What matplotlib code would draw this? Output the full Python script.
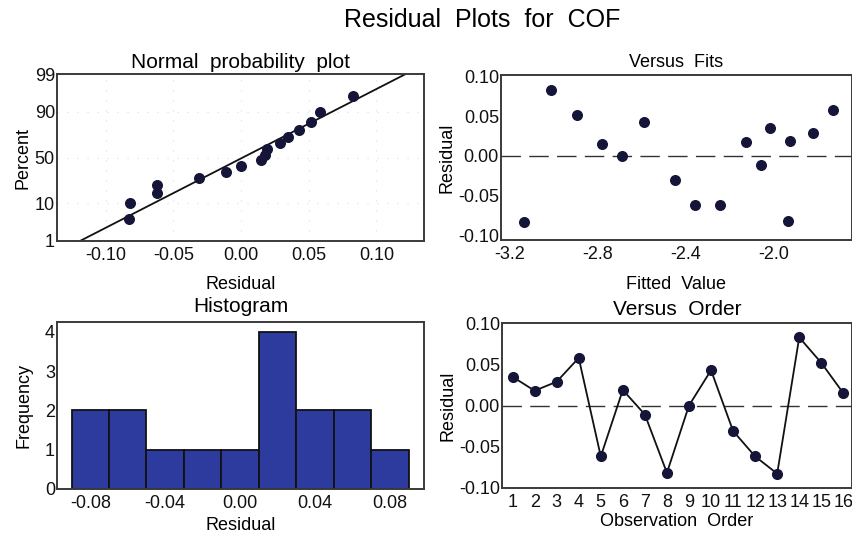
import matplotlib
matplotlib.use("Agg")
import matplotlib.pyplot as plt
import numpy as np
from statistics import NormalDist

plt.rcParams['font.family'] = ['Liberation Sans', 'DejaVu Sans']
plt.rcParams['axes.unicode_minus'] = False

# residuals in observation order, with their fitted values
order = list(range(1, 17))
residuals = [0.035, 0.018, 0.029, 0.058, -0.062, 0.019, -0.011, -0.082,
             0.000, 0.043, -0.031, -0.062, -0.083, 0.083, 0.052, 0.015]
fitted = [-2.015, -2.125, -1.822, -1.731, -2.245, -1.925, -2.056, -1.937,
          -2.690, -2.590, -2.450, -2.359, -3.132, -3.011, -2.895, -2.780]
hist_bins = [-0.09, -0.07, -0.05, -0.03, -0.01, 0.01, 0.03, 0.05, 0.07, 0.09]
pct_ticks = [1, 10, 50, 90, 99]

spine_col = '#3a3a3a'
dot_col = '#15153a'
bar_col = '#2e3b9e'
nd = NormalDist()
tick_fs = 13
lab_fs = 13

fig = plt.figure(figsize=(8.53, 5.34), dpi=100)
ax1 = fig.add_axes([0.0668, 0.5487, 0.430, 0.3127])
ax2 = fig.add_axes([0.5873, 0.5506, 0.4115, 0.309])
ax3 = fig.add_axes([0.0668, 0.0843, 0.430, 0.3127])
ax4 = fig.add_axes([0.5885, 0.0861, 0.410, 0.309])

for ax in (ax1, ax2, ax3, ax4):
    for s in ax.spines.values():
        s.set_color(spine_col)
        s.set_linewidth(1.4)
    ax.tick_params(length=0, labelsize=tick_fs, colors='#111111')
    ax.tick_params(axis='y', pad=1.5)
    ax.tick_params(axis='x', pad=4)

# normal probability plot
n = len(residuals)
r_sorted = np.sort(residuals)
probs = [(i + 1 - 0.3) / (n + 0.4) for i in range(n)]
z = [nd.inv_cdf(p) for p in probs]
mu = np.mean(residuals)
sd = np.std(residuals, ddof=1)
zlo, zhi = nd.inv_cdf(0.01), nd.inv_cdf(0.99)
ax1.plot([mu + zlo * sd, mu + zhi * sd], [zlo, zhi], color='#111111', lw=1.3, zorder=2)
ax1.scatter(r_sorted, z, s=48, color=dot_col, zorder=3)
ax1.set_ylim(zlo, zhi)
ax1.set_xlim(-0.136, 0.135)
ax1.set_yticks([nd.inv_cdf(p / 100) for p in pct_ticks])
ax1.set_yticklabels([str(p) for p in pct_ticks])
ax1.set_xticks([-0.10, -0.05, 0.00, 0.05, 0.10])
ax1.set_xticklabels(['-0.10', '-0.05', '0.00', '0.05', '0.10'])
ax1.grid(True, linestyle=(0, (1, 8)), color='#dddddd', lw=0.8)
ax1.set_title('Normal  probability  plot', fontsize=15, pad=4)
ax1.set_xlabel('Residual', fontsize=lab_fs, labelpad=9)
ax1.set_ylabel('Percent', fontsize=lab_fs, labelpad=2)

# versus fits
ax2.scatter(fitted, residuals, s=48, color=dot_col, zorder=3)
ax2.axhline(0, color='#333333', lw=1.0, dashes=(14, 6), zorder=1)
ax2.set_xlim(-3.238, -1.645)
ax2.set_ylim(-0.106, 0.102)
ax2.set_xticks([-3.2, -2.8, -2.4, -2.0])
ax2.set_xticklabels(['-3.2', '-2.8', '-2.4', '-2.0'])
ax2.set_yticks([-0.10, -0.05, 0.00, 0.05, 0.10])
ax2.set_yticklabels(['-0.10', '-0.05', '0.00', '0.05', '0.10'])
ax2.set_title('Versus  Fits', fontsize=13, pad=6)
ax2.set_xlabel('Fitted  Value', fontsize=lab_fs, labelpad=10)
ax2.set_ylabel('Residual', fontsize=lab_fs, labelpad=2)

# histogram
ax3.hist(residuals, bins=hist_bins, color=bar_col, edgecolor='#111111', linewidth=1.3)
ax3.set_xlim(-0.0978, 0.0981)
ax3.set_ylim(0, 4.25)
ax3.set_xticks([-0.08, -0.04, 0.00, 0.04, 0.08])
ax3.set_xticklabels(['-0.08', '-0.04', '0.00', '0.04', '0.08'])
ax3.set_yticks([0, 1, 2, 3, 4])
ax3.set_title('Histogram', fontsize=15, pad=7)
ax3.set_xlabel('Residual', fontsize=lab_fs, labelpad=4)
ax3.set_ylabel('Frequency', fontsize=lab_fs, labelpad=9)

# versus order
ax4.plot(order, residuals, color='#111111', lw=1.3, marker='o', ms=7,
         markerfacecolor=dot_col, markeredgecolor=dot_col, zorder=3)
ax4.axhline(0, color='#333333', lw=1.0, dashes=(14, 6), zorder=1)
ax4.set_xlim(0.52, 16.38)
ax4.set_ylim(-0.1005, 0.1005)
ax4.set_xticks(order)
ax4.set_yticks([-0.10, -0.05, 0.00, 0.05, 0.10])
ax4.set_yticklabels(['-0.10', '-0.05', '0.00', '0.05', '0.10'])
ax4.set_title('Versus  Order', fontsize=15, pad=6)
ax4.set_xlabel('Observation  Order', fontsize=lab_fs, labelpad=2)
ax4.set_ylabel('Residual', fontsize=lab_fs, labelpad=2)

fig.text(0.565, 0.963, 'Residual  Plots  for  COF', ha='center', va='center', fontsize=18)

fig.savefig('out.png', dpi=100)
